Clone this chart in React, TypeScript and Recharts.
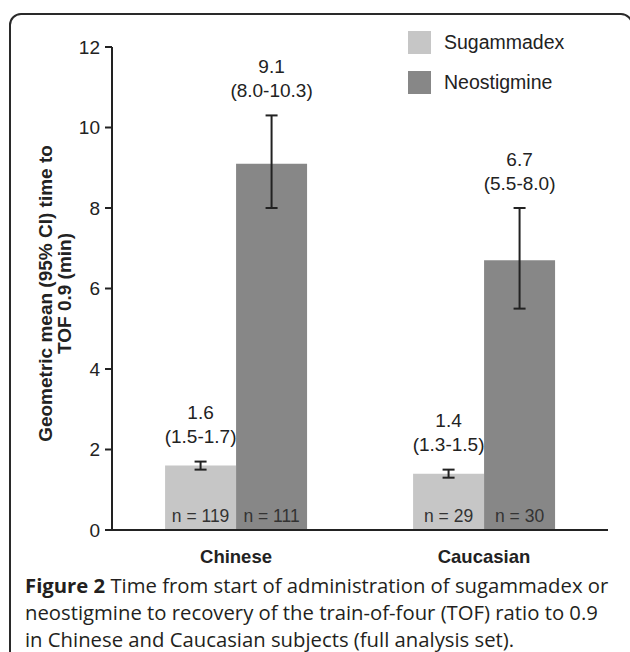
import React from 'react';
import { BarChart, Bar, XAxis, YAxis, ErrorBar, LabelList } from 'recharts';

const groups = ['Chinese', 'Caucasian'];
const sugammadexMean = [1.6, 1.4];
const sugammadexLow = [1.5, 1.3];
const sugammadexHigh = [1.7, 1.5];
const sugammadexN = [119, 29];
const neostigmineMean = [9.1, 6.7];
const neostigmineLow = [8.0, 5.5];
const neostigmineHigh = [10.3, 8.0];
const neostigmineN = [111, 30];
const yTicks = [0, 2, 4, 6, 8, 10, 12];

const SUG_COLOR = '#c6c6c6';
const NEO_COLOR = '#878787';
const INK = '#222';
const FONT = '"Liberation Sans", Arial, sans-serif';

const data = groups.map((group, i) => ({
  group,
  sug: sugammadexMean[i],
  sugErr: [sugammadexMean[i] - sugammadexLow[i], sugammadexHigh[i] - sugammadexMean[i]],
  sugLow: sugammadexLow[i],
  sugHigh: sugammadexHigh[i],
  sugN: sugammadexN[i],
  neo: neostigmineMean[i],
  neoErr: [neostigmineMean[i] - neostigmineLow[i], neostigmineHigh[i] - neostigmineMean[i]],
  neoLow: neostigmineLow[i],
  neoHigh: neostigmineHigh[i],
  neoN: neostigmineN[i],
}));

type Row = (typeof data)[number];

// mean + CI text above the error bar
const ciLabel = (lowKey: keyof Row, highKey: keyof Row) => (props: any) => {
  const { x, y, width, height, value, index } = props;
  const row = data[index];
  const perUnit = Number(height) / Number(value);
  const topY = Number(y) + Number(height) - (row[highKey] as number) * perUnit;
  const cx = Number(x) + Number(width) / 2;
  const low = row[lowKey] as number;
  const high = row[highKey] as number;
  return (
    <g fontFamily={FONT} fontSize={19} fill={INK} textAnchor="middle">
      <text x={cx} y={topY - 49} dominantBaseline="central">
        {Number(value).toFixed(1)}
      </text>
      <text x={cx} y={topY - 25} dominantBaseline="central">
        {`(${low.toFixed(1)}-${high.toFixed(1)})`}
      </text>
    </g>
  );
};

const nLabel = (nKey: keyof Row) => (props: any) => {
  const { x, y, width, height, index } = props;
  const cx = Number(x) + Number(width) / 2;
  const base = Number(y) + Number(height);
  return (
    <text
      x={cx}
      y={base - 14}
      textAnchor="middle"
      dominantBaseline="central"
      fontFamily={FONT}
      fontSize={17.5}
      fill="#333"
    >
      {`n = ${data[index][nKey]}`}
    </text>
  );
};

const YLabel = (props: any) => {
  const { viewBox } = props;
  const cy = viewBox.y + viewBox.height / 2 + 5;
  const x1 = 45;
  const x2 = 64;
  return (
    <g fontFamily={FONT} fontSize={19} fontWeight="bold" fill={INK} textAnchor="middle">
      <text x={x1} y={cy} transform={`rotate(-90 ${x1} ${cy})`} dominantBaseline="central">
        Geometric mean (95% CI) time to
      </text>
      <text x={x2} y={cy} transform={`rotate(-90 ${x2} ${cy})`} dominantBaseline="central">
        TOF 0.9 (min)
      </text>
    </g>
  );
};

const legendItems = [
  { name: 'Sugammadex', color: SUG_COLOR },
  { name: 'Neostigmine', color: NEO_COLOR },
];

export default function App() {
  return (
    <div
      style={{
        position: 'absolute',
        left: 0,
        top: 0,
        width: 630,
        height: 652,
        overflow: 'hidden',
        background: '#fff',
      }}
    >
      <div
        style={{
          position: 'absolute',
          left: 9,
          top: 13,
          width: 620,
          height: 700,
          border: '2px solid #2a2a2a',
          borderRadius: 12,
        }}
      />
      <div style={{ position: 'absolute', left: 0, top: 0 }}>
        <BarChart
          width={630}
          height={572}
          data={data}
          margin={{ top: 47, right: 22, bottom: 0, left: 40 }}
          barCategoryGap="21.4%"
          barGap={0}
        >
          <XAxis
            dataKey="group"
            height={42}
            tickLine={false}
            tickSize={0}
            tickMargin={20}
            axisLine={{ stroke: INK, strokeWidth: 2 }}
            tick={{ fill: INK, fontSize: 18.5, fontWeight: 'bold', fontFamily: FONT }}
          />
          <YAxis
            width={72}
            domain={[0, 12]}
            ticks={yTicks}
            interval={0}
            tickSize={7}
            tickMargin={5}
            axisLine={{ stroke: INK, strokeWidth: 2 }}
            tickLine={{ stroke: INK, strokeWidth: 2 }}
            tick={{ fill: INK, fontSize: 19, fontFamily: FONT }}
            label={<YLabel />}
          />
          <Bar dataKey="sug" name="Sugammadex" fill={SUG_COLOR} isAnimationActive={false}>
            <ErrorBar dataKey="sugErr" width={6} stroke={INK} strokeWidth={2} direction="y" />
            <LabelList dataKey="sug" content={ciLabel('sugLow', 'sugHigh')} />
            <LabelList dataKey="sug" content={nLabel('sugN')} />
          </Bar>
          <Bar dataKey="neo" name="Neostigmine" fill={NEO_COLOR} isAnimationActive={false}>
            <ErrorBar dataKey="neoErr" width={6} stroke={INK} strokeWidth={2} direction="y" />
            <LabelList dataKey="neo" content={ciLabel('neoLow', 'neoHigh')} />
            <LabelList dataKey="neo" content={nLabel('neoN')} />
          </Bar>
        </BarChart>
      </div>
      <div
        style={{
          position: 'absolute',
          left: 408,
          top: 31,
          fontFamily: FONT,
          fontSize: 19.5,
          color: INK,
        }}
      >
        {legendItems.map((item) => (
          <div key={item.name} style={{ display: 'flex', alignItems: 'center', height: 23, marginBottom: 17 }}>
            <span style={{ width: 23, height: 23, background: item.color, display: 'inline-block' }} />
            <span style={{ marginLeft: 13 }}>{item.name}</span>
          </div>
        ))}
      </div>
      <div
        style={{
          position: 'absolute',
          left: 25,
          top: 572,
          fontFamily: '"Open Sans", sans-serif',
          fontSize: 20.3,
          lineHeight: '27px',
          color: '#231f20',
          whiteSpace: 'nowrap',
        }}
      >
        <b>Figure 2</b> Time from start of administration of sugammadex or
        <br />
        neostigmine to recovery of the train-of-four (TOF) ratio to 0.9
        <br />
        in Chinese and Caucasian subjects (full analysis set).
      </div>
    </div>
  );
}
